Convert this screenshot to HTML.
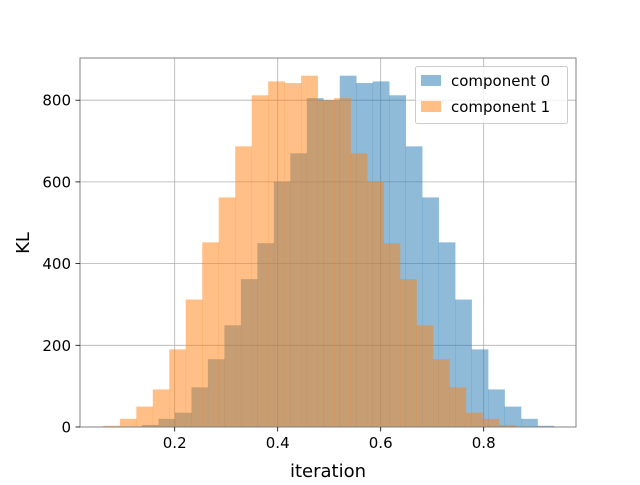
<!DOCTYPE html>
<html><head><meta charset="utf-8"><style>
body{margin:0;background:#fff;}
svg text{font-family:"DejaVu Sans","Liberation Sans",sans-serif;fill:#000;}
</style></head><body>
<svg id="chart" width="640" height="480" xmlns="http://www.w3.org/2000/svg">
<rect width="640" height="480" fill="#fff"/>
<g id="grid"></g>
<g id="bars"></g>
<rect x="80" y="58" width="496" height="369" fill="none" stroke="#808080" stroke-width="1"/>
<g id="ticks"></g>
<text x="328" y="477" font-size="18" text-anchor="middle">iteration</text>
<text x="29" y="243" font-size="18" text-anchor="middle" transform="rotate(-90 29 243)">KL</text>
<g>
<rect x="415.5" y="66.5" width="152" height="57" rx="2" fill="#fff" fill-opacity="0.8" stroke="#ccc"/>
<g>
<rect x="421" y="75" width="20" height="11" fill="#1f77b4" fill-opacity="0.5"/>
<text x="451" y="86" font-size="15">component 0</text></g>
<g>
<rect x="421" y="101" width="20" height="11" fill="#ff7f0e" fill-opacity="0.5"/>
<text x="451" y="112" font-size="15">component 1</text></g>
</g>
</svg>
<script>
const binWidth = 0.032;
const start0 = 0.1365;
const start1 = 0.0615;
const counts0 = [5,20,35,97,166,249,362,450,601,670,805,800,860,842,846,812,687,562,452,312,190,92,50,20,3];
const counts1 = [3,20,50,92,190,312,452,562,687,812,846,842,860,800,805,670,601,450,362,249,166,97,35,20,5];
const xTicks = [0.2,0.4,0.6,0.8];
const yTicks = [0,200,400,600,800];
const NS="http://www.w3.org/2000/svg";
function xs(v){return 71.7+v*515;}
function ys(v){return 427-v*0.4085;}
const grid=document.getElementById('grid'),bars=document.getElementById('bars'),ticks=document.getElementById('ticks');
function mk(tag,attrs,parent){const e=document.createElementNS(NS,tag);for(const k in attrs)e.setAttribute(k,attrs[k]);parent.appendChild(e);return e;}
xTicks.forEach(t=>{
  const g=mk('line',{x1:xs(t),x2:xs(t),y1:58,y2:427,stroke:'#b0b0b0','stroke-width':0.8},grid);
  
  
  const tk=mk('line',{x1:xs(t),x2:xs(t),y1:427,y2:431.5,stroke:'#000','stroke-width':0.8},ticks);
  
  
  const tx=mk('text',{x:xs(t),y:448,'font-size':15,'text-anchor':'middle'},ticks);
  tx.textContent=t.toFixed(1);
  
  
});
yTicks.forEach(t=>{
  const g=mk('line',{x1:80,x2:576,y1:ys(t),y2:ys(t),stroke:'#b0b0b0','stroke-width':0.8},grid);
  
  
  const tk=mk('line',{x1:75.5,x2:80,y1:ys(t),y2:ys(t),stroke:'#000','stroke-width':0.8},ticks);
  
  
  const tx=mk('text',{x:71,y:ys(t)+5.5,'font-size':15,'text-anchor':'end'},ticks);
  tx.textContent=String(t);
  
  
});
function drawSeries(counts,start,color,name){
  counts.forEach((c,i)=>{
    const x0=xs(start+i*binWidth),x1=xs(start+(i+1)*binWidth);
    const r=mk('rect',{x:x0,y:ys(c),width:x1-x0+0.3,height:427-ys(c),fill:color,'fill-opacity':0.5},bars);
    
    
  });
}
drawSeries(counts0,start0,'#1f77b4','component-0');
drawSeries(counts1,start1,'#ff7f0e','component-1');
</script>
</body></html>
